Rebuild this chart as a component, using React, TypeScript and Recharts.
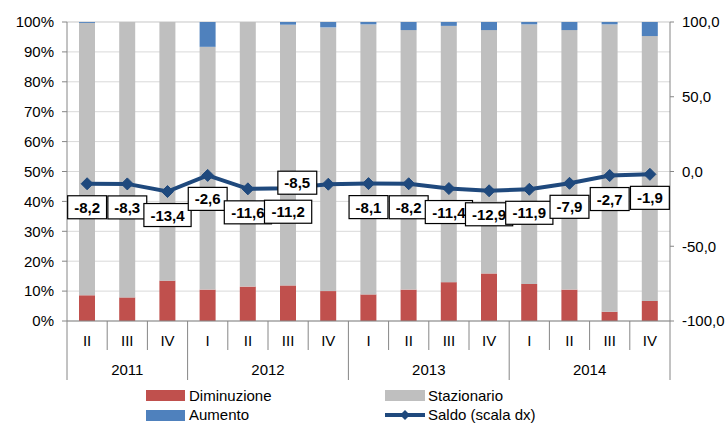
import React from 'react';
import { ComposedChart, Bar, Line, XAxis, YAxis, CartesianGrid, LabelList } from 'recharts';

const quarters = ['II', 'III', 'IV', 'I', 'II', 'III', 'IV', 'I', 'II', 'III', 'IV', 'I', 'II', 'III', 'IV'];
const years = ['2011', '2011', '2011', '2012', '2012', '2012', '2012', '2013', '2013', '2013', '2013', '2014', '2014', '2014', '2014'];
const diminuzione = [8.6, 7.9, 13.5, 10.5, 11.5, 11.9, 10.0, 8.9, 10.5, 13.0, 15.9, 12.4, 10.5, 3.1, 6.7];
const stazionario = [91.1, 92.1, 86.5, 81.2, 88.5, 87.2, 88.2, 90.3, 86.8, 85.7, 81.4, 86.8, 86.8, 96.1, 88.6];
const aumento = [0.3, 0, 0, 8.3, 0, 0.9, 1.8, 0.8, 2.7, 1.3, 2.7, 0.8, 2.7, 0.8, 4.7];
const saldo = [-8.2, -8.3, -13.4, -2.6, -11.6, -11.2, -8.5, -8.1, -8.2, -11.4, -12.9, -11.9, -7.9, -2.7, -1.9];
const leftTicks = [0, 10, 20, 30, 40, 50, 60, 70, 80, 90, 100];
const rightTicks = [-100, -50, 0, 50, 100];

const data = quarters.map((q, i) => ({
  idx: i,
  diminuzione: diminuzione[i],
  stazionario: stazionario[i],
  aumento: aumento[i],
  saldo: saldo[i],
}));

const W = 727;
const H = 423;
const PLOT_LEFT = 67;
const PLOT_RIGHT = 670;
const PLOT_TOP = 22;
const PLOT_BOTTOM = 321;
const BAND = (PLOT_RIGHT - PLOT_LEFT) / quarters.length;
const FONT = '"Liberation Sans", Arial, sans-serif';
const AXIS = '#868686';

const fmtIt = (v: number) => v.toFixed(1).replace('.', ',');

const QuarterTick = (props: any) => {
  const { x, payload } = props;
  const i = payload.value as number;
  const left = x - BAND / 2;
  const yearStart = i === 0 || years[i] !== years[i - 1];
  let groupLen = 0;
  if (yearStart) {
    while (i + groupLen < years.length && years[i + groupLen] === years[i]) groupLen++;
  }
  const isLast = i === quarters.length - 1;
  return (
    <g>
      <line x1={left} x2={left} y1={PLOT_BOTTOM} y2={yearStart ? 380 : 350} stroke={AXIS} strokeWidth={1} />
      {isLast && <line x1={left + BAND} x2={left + BAND} y1={PLOT_BOTTOM} y2={380} stroke={AXIS} strokeWidth={1} />}
      <text x={x} y={346} textAnchor="middle" fontSize={15} fontFamily={FONT} fill="#000">
        {quarters[i]}
      </text>
      {yearStart && (
        <text x={left + (groupLen * BAND) / 2} y={375} textAnchor="middle" fontSize={15} fontFamily={FONT} fill="#000">
          {years[i]}
        </text>
      )}
    </g>
  );
};

const charW = (ch: string) => (ch === '-' ? 5 : ch === ',' ? 4.2 : 8.34);

const SaldoLabel = (props: any) => {
  const { x, y, value, index } = props;
  const txt = fmtIt(value);
  const w = txt.split('').reduce((s, c) => s + charW(c), 0) + 13;
  const h = 23;
  // the -8,5 label sits to the upper-left of its point, as in the source
  const cx = index === 6 ? x - 31 : x;
  const top = index === 6 ? y - 13 : y + 12;
  return (
    <g>
      <rect x={cx - w / 2} y={top} width={w} height={h} fill="#fff" stroke="#000" strokeWidth={1.2} />
      <text x={cx} y={top + 17} textAnchor="middle" fontSize={15} fontWeight="bold" fontFamily={FONT} fill="#000">
        {txt}
      </text>
    </g>
  );
};

const Diamond = (props: any) => {
  const { cx, cy } = props;
  if (cx == null || cy == null) return null;
  const r = 6;
  return <path d={`M${cx},${cy - r} L${cx + r},${cy} L${cx},${cy + r} L${cx - r},${cy} Z`} fill="#1F497D" stroke="#1F497D" />;
};

const legendText: React.CSSProperties = {
  position: 'absolute',
  fontFamily: FONT,
  fontSize: 15,
  color: '#000',
  lineHeight: '15px',
  whiteSpace: 'nowrap',
};

export default function App() {
  return (
    <div style={{ position: 'absolute', left: 0, top: 0, width: W, height: H, background: '#fff', overflow: 'hidden' }}>
      <ComposedChart
        width={W}
        height={H}
        data={data}
        margin={{ top: PLOT_TOP, right: 0, bottom: 0, left: 0 }}
        barCategoryGap={0}
      >
        <CartesianGrid yAxisId="left" vertical={false} stroke="#d9d9d9" strokeWidth={1} />
        <XAxis
          dataKey="idx"
          type="category"
          interval={0}
          height={H - PLOT_BOTTOM}
          tickLine={false}
          axisLine={{ stroke: AXIS }}
          tick={<QuarterTick />}
        />
        <YAxis
          yAxisId="left"
          orientation="left"
          width={PLOT_LEFT}
          domain={[0, 100]}
          ticks={leftTicks}
          interval={0}
          tickFormatter={(v: number) => `${v}%`}
          tick={{ fontSize: 15, fontFamily: FONT, fill: '#000' }}
          tickSize={5}
          tickMargin={8}
          axisLine={{ stroke: AXIS }}
          tickLine={{ stroke: AXIS }}
        />
        <YAxis
          yAxisId="right"
          orientation="right"
          width={W - PLOT_RIGHT}
          domain={[-100, 100]}
          ticks={rightTicks}
          interval={0}
          tickFormatter={fmtIt}
          tick={{ fontSize: 15, fontFamily: FONT, fill: '#000' }}
          tickSize={4}
          tickMargin={8}
          axisLine={{ stroke: AXIS }}
          tickLine={{ stroke: AXIS }}
        />
        <Bar yAxisId="left" dataKey="diminuzione" stackId="s" fill="#C0504D" barSize={16} isAnimationActive={false} />
        <Bar yAxisId="left" dataKey="stazionario" stackId="s" fill="#BFBFBF" barSize={16} isAnimationActive={false} />
        <Bar yAxisId="left" dataKey="aumento" stackId="s" fill="#4F81BD" barSize={16} isAnimationActive={false} />
        <Line
          yAxisId="right"
          dataKey="saldo"
          stroke="#1F497D"
          strokeWidth={4}
          dot={<Diamond />}
          activeDot={false}
          isAnimationActive={false}
        >
          <LabelList dataKey="saldo" content={<SaldoLabel />} />
        </Line>
      </ComposedChart>

      <div style={{ position: 'absolute', left: 146, top: 390, width: 39, height: 11, background: '#C0504D' }} />
      <div style={{ ...legendText, left: 189, top: 388 }}>Diminuzione</div>
      <div style={{ position: 'absolute', left: 385, top: 390, width: 40, height: 11, background: '#BFBFBF' }} />
      <div style={{ ...legendText, left: 428, top: 388 }}>Stazionario</div>
      <div style={{ position: 'absolute', left: 146, top: 410, width: 39, height: 11, background: '#4F81BD' }} />
      <div style={{ ...legendText, left: 189, top: 407 }}>Aumento</div>
      <svg style={{ position: 'absolute', left: 385, top: 408 }} width={40} height={14}>
        <line x1={0} x2={40} y1={7} y2={7} stroke="#1F497D" strokeWidth={4} />
        <path d="M20,2 L25,7 L20,12 L15,7 Z" fill="#1F497D" />
      </svg>
      <div style={{ ...legendText, left: 428, top: 407 }}>Saldo (scala dx)</div>
    </div>
  );
}
